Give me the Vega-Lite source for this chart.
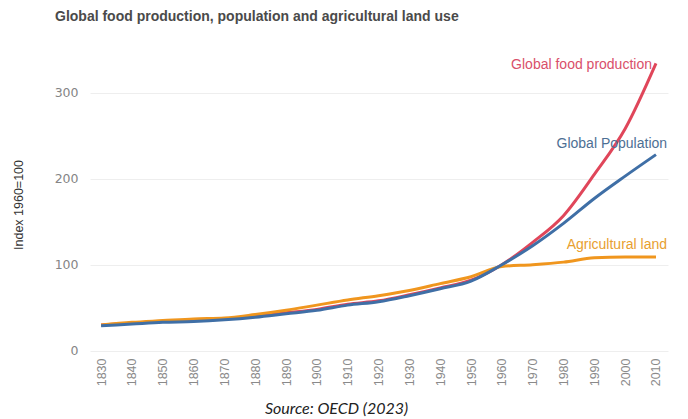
{
  "$schema": "https://vega.github.io/schema/vega-lite/v6.json",
  "width": 578,
  "height": 301,
  "autosize": "none",
  "padding": {"left": 90, "top": 54, "right": 20, "bottom": 64},
  "background": "white",
  "title": {
    "text": "Global food production, population and agricultural land use",
    "anchor": "start",
    "frame": "group",
    "dx": -35,
    "offset": 30,
    "font": "Liberation Sans",
    "fontSize": 14,
    "fontWeight": "bold",
    "color": "#4a4a4a"
  },
  "config": {
    "view": {"stroke": null},
    "font": "Liberation Sans",
    "axisX": {"labelOverlap": false}
  },
  "datasets": {
    "series": [
      {"year": 1830, "series": "Global food production", "value": 30},
      {"year": 1840, "series": "Global food production", "value": 32},
      {"year": 1850, "series": "Global food production", "value": 34},
      {"year": 1860, "series": "Global food production", "value": 35},
      {"year": 1870, "series": "Global food production", "value": 37},
      {"year": 1880, "series": "Global food production", "value": 40},
      {"year": 1890, "series": "Global food production", "value": 44},
      {"year": 1900, "series": "Global food production", "value": 48},
      {"year": 1910, "series": "Global food production", "value": 54},
      {"year": 1920, "series": "Global food production", "value": 58},
      {"year": 1930, "series": "Global food production", "value": 65},
      {"year": 1940, "series": "Global food production", "value": 73},
      {"year": 1950, "series": "Global food production", "value": 82},
      {"year": 1960, "series": "Global food production", "value": 100},
      {"year": 1970, "series": "Global food production", "value": 126},
      {"year": 1980, "series": "Global food production", "value": 157},
      {"year": 1990, "series": "Global food production", "value": 205},
      {"year": 2000, "series": "Global food production", "value": 258},
      {"year": 2010, "series": "Global food production", "value": 334},
      {"year": 1830, "series": "Agricultural land", "value": 30},
      {"year": 1840, "series": "Agricultural land", "value": 33},
      {"year": 1850, "series": "Agricultural land", "value": 35},
      {"year": 1860, "series": "Agricultural land", "value": 37},
      {"year": 1870, "series": "Agricultural land", "value": 38},
      {"year": 1880, "series": "Agricultural land", "value": 42},
      {"year": 1890, "series": "Agricultural land", "value": 47},
      {"year": 1900, "series": "Agricultural land", "value": 53},
      {"year": 1910, "series": "Agricultural land", "value": 59},
      {"year": 1920, "series": "Agricultural land", "value": 64},
      {"year": 1930, "series": "Agricultural land", "value": 70},
      {"year": 1940, "series": "Agricultural land", "value": 78},
      {"year": 1950, "series": "Agricultural land", "value": 86},
      {"year": 1960, "series": "Agricultural land", "value": 98},
      {"year": 1970, "series": "Agricultural land", "value": 100},
      {"year": 1980, "series": "Agricultural land", "value": 103},
      {"year": 1990, "series": "Agricultural land", "value": 108},
      {"year": 2000, "series": "Agricultural land", "value": 109},
      {"year": 2010, "series": "Agricultural land", "value": 109},
      {"year": 1830, "series": "Global Population", "value": 29},
      {"year": 1840, "series": "Global Population", "value": 31},
      {"year": 1850, "series": "Global Population", "value": 33},
      {"year": 1860, "series": "Global Population", "value": 34},
      {"year": 1870, "series": "Global Population", "value": 36},
      {"year": 1880, "series": "Global Population", "value": 39},
      {"year": 1890, "series": "Global Population", "value": 43},
      {"year": 1900, "series": "Global Population", "value": 47},
      {"year": 1910, "series": "Global Population", "value": 53},
      {"year": 1920, "series": "Global Population", "value": 57},
      {"year": 1930, "series": "Global Population", "value": 64},
      {"year": 1940, "series": "Global Population", "value": 72},
      {"year": 1950, "series": "Global Population", "value": 81},
      {"year": 1960, "series": "Global Population", "value": 100},
      {"year": 1970, "series": "Global Population", "value": 122},
      {"year": 1980, "series": "Global Population", "value": 148},
      {"year": 1990, "series": "Global Population", "value": 177},
      {"year": 2000, "series": "Global Population", "value": 203},
      {"year": 2010, "series": "Global Population", "value": 228}
    ],
    "labels": [
      {"series": "Global food production", "year": 2008.7, "value": 332},
      {"series": "Global Population", "year": 2013.6, "value": 240},
      {"series": "Agricultural land", "year": 2013.6, "value": 123}
    ]
  },
  "encoding": {
    "x": {
      "field": "year",
      "type": "quantitative",
      "scale": {"domain": [1826.4, 2013.9], "nice": false, "zero": false},
      "axis": {
        "values": [1830, 1840, 1850, 1860, 1870, 1880, 1890, 1900, 1910, 1920, 1930, 1940, 1950, 1960, 1970, 1980, 1990, 2000, 2010],
        "tickCount": 19,
        "format": "d",
        "labelAngle": -90,
        "labelAlign": "right",
        "labelBaseline": "middle",
        "labelColor": "#8a8a8a",
        "labelFontSize": 12.5,
        "labelPadding": 3,
        "labelOverlap": false,
        "labelFlush": false,
        "domain": false,
        "ticks": false,
        "grid": false,
        "title": "Source: OECD (2023)",
        "titleFont": "Lato",
        "titleFontStyle": "italic",
        "titleFontWeight": "normal",
        "titleFontSize": 16,
        "titleColor": "#222222",
        "titleX": 246,
        "titleY": 45
      }
    },
    "y": {
      "field": "value",
      "type": "quantitative",
      "scale": {"domain": [-5, 345], "nice": false},
      "axis": {
        "values": [0, 100, 200, 300],
        "labelColor": "#858585",
        "labelFont": "DejaVu Sans",
        "labelFontSize": 12.5,
        "labelPadding": 12,
        "domain": false,
        "ticks": false,
        "grid": true,
        "gridColor": "#eeeeee",
        "gridWidth": 1,
        "title": "Index 1960=100",
        "titleFontSize": 12.5,
        "titleFontWeight": "normal",
        "titleColor": "#333333",
        "titlePadding": 29
      }
    }
  },
  "layer": [
    {
      "data": {"name": "series"},
      "mark": {"type": "line", "strokeWidth": 3, "interpolate": "monotone"},
      "encoding": {
        "color": {
          "field": "series",
          "type": "nominal",
          "scale": {
            "domain": ["Global food production", "Global Population", "Agricultural land"],
            "range": ["#e0465a", "#3f6fa6", "#f0961e"]
          },
          "legend": null
        },
        "detail": {"field": "series"}
      }
    },
    {
      "data": {"name": "labels"},
      "mark": {"type": "text", "fontSize": 14, "baseline": "middle", "align": "right"},
      "encoding": {
        "text": {"field": "series"},
        "color": {
          "field": "series",
          "type": "nominal",
          "scale": {
            "domain": ["Global food production", "Global Population", "Agricultural land"],
            "range": ["#d9506a", "#4d6f94", "#e8a030"]
          },
          "legend": null
        }
      }
    }
  ],
  "resolve": {"scale": {"color": "independent"}}
}
